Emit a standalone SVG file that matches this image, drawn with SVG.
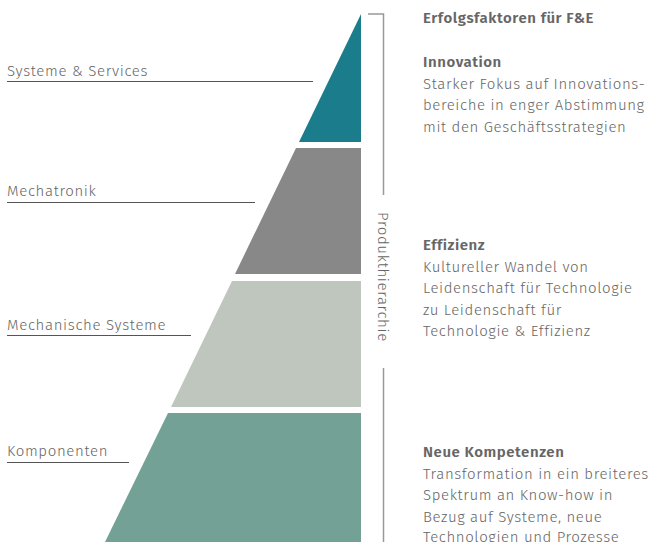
<svg xmlns="http://www.w3.org/2000/svg" width="650" height="542" viewBox="0 0 650 542">
<style>
text{font-family:"Fira Sans","Noto Sans","Open Sans",sans-serif;font-size:15px;font-weight:300;letter-spacing:0.65px;fill:#666;}
.b{font-weight:600;letter-spacing:0.55px;}
.r{letter-spacing:0.6px;}
.ul{stroke:#555;stroke-width:1.2;fill:none;}
.ax{stroke:#999;stroke-width:1.5;fill:none;}
</style>
<rect width="650" height="542" fill="#fff"/>
<g id="level1"><polygon points="361,14 361,142 299,142" fill="#1b7d8c"/></g>
<g id="level2"><polygon points="296,148 361,148 361,274 235,274" fill="#888888"/></g>
<g id="level3"><polygon points="232,281 361,281 361,407 171,407" fill="#bfc6bd"/></g>
<g id="level4"><polygon points="168,413 361,413 361,542 105,542" fill="#73a195"/></g>
<g id="labels">
<text x="7" y="76">Systeme &amp; Services</text>
<text x="7" y="196">Mechatronik</text>
<text x="7" y="330">Mechanische Systeme</text>
<text x="7" y="456">Komponenten</text>
</g>
<g id="connectors">
<line class="ul" x1="7" y1="81.5" x2="313" y2="81.5"/>
<line class="ul" x1="7" y1="202.5" x2="255" y2="202.5"/>
<line class="ul" x1="7" y1="335.5" x2="191" y2="335.5"/>
<line class="ul" x1="7" y1="462.5" x2="129" y2="462.5"/>
<polyline class="ax" points="368,14 383.5,14 383.5,195"/>
<line class="ax" x1="383.5" y1="368" x2="383.5" y2="542"/>
</g>
<g id="axis-label">
<text transform="translate(378,212) rotate(90)" x="0" y="0">Produkthierarchie</text>
</g>
<g id="factors">
<text class="b" x="423" y="23">Erfolgsfaktoren für F&amp;E</text>
<text class="b" x="423" y="67">Innovation</text>
<text class="r" x="423" y="88.5">Starker Fokus auf Innovations-</text>
<text class="r" x="423" y="110">bereiche in enger Abstimmung</text>
<text class="r" x="423" y="131.5">mit den Geschäftsstrategien</text>
<text class="b" x="423" y="250">Effizienz</text>
<text class="r" x="423" y="271.5">Kultureller Wandel von</text>
<text class="r" x="423" y="293">Leidenschaft für Technologie</text>
<text class="r" x="423" y="314.5">zu Leidenschaft für</text>
<text class="r" x="423" y="336">Technologie &amp; Effizienz</text>
<text class="b" x="423" y="457">Neue Kompetenzen</text>
<text class="r" x="423" y="478.5">Transformation in ein breiteres</text>
<text class="r" x="423" y="500">Spektrum an Know-how in</text>
<text class="r" x="423" y="521.5">Bezug auf Systeme, neue</text>
<text class="r" x="423" y="542">Technologien und Prozesse</text>
</g>
</svg>
